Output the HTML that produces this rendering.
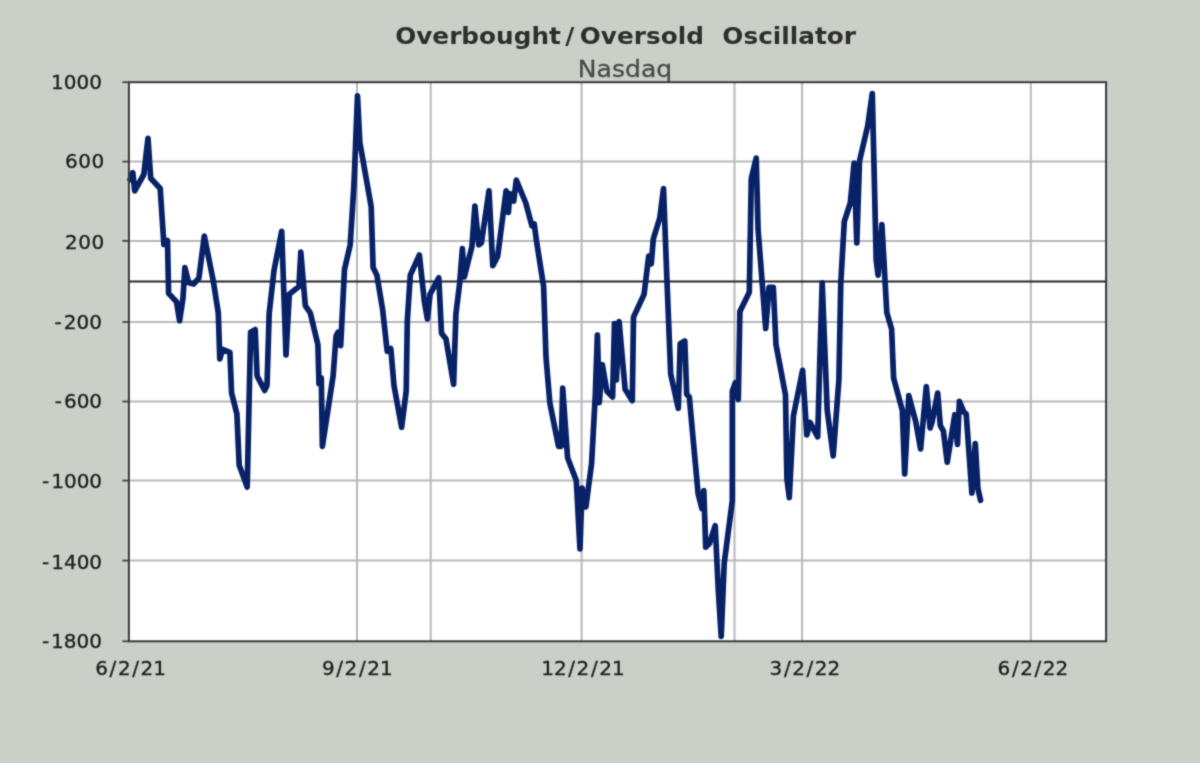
<!DOCTYPE html>
<html><head><meta charset="utf-8"><title>Overbought/Oversold Oscillator</title>
<style>html,body{margin:0;padding:0;background:#cacfc8;}body{width:1200px;height:763px;overflow:hidden;}svg{display:block;}text{font-family:"DejaVu Sans","Liberation Sans",sans-serif;}</style></head><body>
<svg width="1200" height="763" viewBox="0 0 1200 763">
<defs><filter id="soft" x="0" y="0" width="1200" height="763" filterUnits="userSpaceOnUse" color-interpolation-filters="sRGB"><feConvolveMatrix order="3" kernelMatrix="0.0277 0.1110 0.0277 0.1110 0.4452 0.1110 0.0277 0.1110 0.0277" divisor="1" edgeMode="duplicate" preserveAlpha="true"/></filter></defs>
<g filter="url(#soft)">
<rect x="0" y="0" width="1200" height="763" fill="#cacfc8"/>
<text transform="translate(395.17,43.9) scale(1.100,1)" font-size="22.5" font-weight="bold" fill="#2e2e2e" dx="0 0 0 0 0 0 0 0 0 0 3.85 5.12 0 0 0 0 0 0 0 0 0 1.09 0 0 0 0 0 0 0 0 0" style="white-space:pre">Overbought/Oversold  Oscillator</text>
<text transform="translate(577.84,76.6) scale(1.115,1)" font-size="22.5" fill="#484848" stroke="#484848" stroke-width="0.25">Nasdaq</text>
<rect x="128.9" y="82.2" width="977.2" height="559.1" fill="#ffffff"/>
<line x1="128.9" y1="161.6" x2="1106.1" y2="161.6" stroke="#b7b8bb" stroke-width="2.0"/>
<line x1="128.9" y1="240.9" x2="1106.1" y2="240.9" stroke="#b7b8bb" stroke-width="2.0"/>
<line x1="128.9" y1="322.0" x2="1106.1" y2="322.0" stroke="#b7b8bb" stroke-width="2.0"/>
<line x1="128.9" y1="401.5" x2="1106.1" y2="401.5" stroke="#b7b8bb" stroke-width="2.0"/>
<line x1="128.9" y1="480.6" x2="1106.1" y2="480.6" stroke="#b7b8bb" stroke-width="2.0"/>
<line x1="128.9" y1="560.6" x2="1106.1" y2="560.6" stroke="#b7b8bb" stroke-width="2.0"/>
<line x1="357" y1="82.2" x2="357" y2="641.3" stroke="#b7b8bb" stroke-width="2.0"/>
<line x1="430.7" y1="82.2" x2="430.7" y2="641.3" stroke="#b7b8bb" stroke-width="2.0"/>
<line x1="581.6" y1="82.2" x2="581.6" y2="641.3" stroke="#b7b8bb" stroke-width="2.0"/>
<line x1="734.5" y1="82.2" x2="734.5" y2="641.3" stroke="#b7b8bb" stroke-width="2.0"/>
<line x1="802.1" y1="82.2" x2="802.1" y2="641.3" stroke="#b7b8bb" stroke-width="2.0"/>
<line x1="1030.8" y1="82.2" x2="1030.8" y2="641.3" stroke="#b7b8bb" stroke-width="2.0"/>
<line x1="128.9" y1="281.6" x2="1106.1" y2="281.6" stroke="#262626" stroke-width="2.0"/>
<line x1="122.4" y1="82.2" x2="128.9" y2="82.2" stroke="#444" stroke-width="1.8"/>
<line x1="122.4" y1="161.6" x2="128.9" y2="161.6" stroke="#444" stroke-width="1.8"/>
<line x1="122.4" y1="240.9" x2="128.9" y2="240.9" stroke="#444" stroke-width="1.8"/>
<line x1="122.4" y1="322.0" x2="128.9" y2="322.0" stroke="#444" stroke-width="1.8"/>
<line x1="122.4" y1="401.5" x2="128.9" y2="401.5" stroke="#444" stroke-width="1.8"/>
<line x1="122.4" y1="480.6" x2="128.9" y2="480.6" stroke="#444" stroke-width="1.8"/>
<line x1="122.4" y1="560.6" x2="128.9" y2="560.6" stroke="#444" stroke-width="1.8"/>
<line x1="122.4" y1="641.3" x2="128.9" y2="641.3" stroke="#444" stroke-width="1.8"/>
<path d="M130.1,179.6 L132.8,172.6 L134.7,190.8 L143.8,174.5 L148.0,138.4 L150.7,178.3 L160.2,188.5 L163.9,244.5 L167.5,240.5 L168.6,293.4 L176.5,301.8 L179.6,320.8 L183.0,298.0 L184.9,267.6 L188.7,282.8 L193.6,284.0 L198.9,278.2 L204.3,236.0 L213.3,281.0 L218.3,313.0 L219.8,358.9 L222.6,349.5 L229.9,352.5 L231.6,393.0 L236.9,414.0 L239.2,465.3 L247.2,487.0 L250.6,332.3 L255.2,329.6 L257.1,376.0 L264.7,390.4 L267.0,385.5 L269.2,313.3 L274.0,270.5 L281.7,231.3 L286.0,355.0 L289.3,294.2 L298.9,286.6 L300.8,252.2 L305.3,305.6 L310.3,313.0 L317.9,344.6 L319.0,383.6 L321.3,378.0 L322.4,446.3 L327.3,414.0 L333.1,376.0 L336.1,336.0 L338.0,332.3 L340.7,345.6 L344.5,269.5 L350.2,244.8 L354.0,184.0 L357.5,95.8 L359.8,142.2 L371.2,206.8 L373.1,267.6 L376.9,275.2 L382.6,309.4 L387.2,351.3 L390.8,348.6 L394.0,385.5 L401.6,427.3 L406.2,391.2 L407.3,320.8 L410.3,275.2 L419.4,255.0 L424.4,301.8 L427.4,318.9 L430.1,294.2 L438.8,277.8 L441.5,333.2 L446.0,339.0 L453.6,384.3 L455.9,314.2 L459.7,282.8 L462.4,248.6 L464.3,277.0 L471.9,246.7 L474.9,206.0 L478.7,244.8 L481.4,242.9 L489.0,190.8 L492.8,265.7 L497.7,256.2 L506.1,190.8 L508.4,212.5 L509.9,193.5 L513.7,201.1 L516.3,180.2 L525.8,203.0 L531.9,225.8 L534.2,223.9 L536.5,241.0 L543.6,286.2 L546.0,357.0 L549.8,402.6 L558.5,446.3 L561.2,446.3 L562.7,388.1 L567.6,457.7 L576.3,480.5 L580.0,548.9 L582.1,488.0 L585.9,507.0 L591.6,463.4 L595.3,395.0 L597.4,335.0 L599.3,402.6 L602.3,364.6 L606.9,391.2 L612.6,396.9 L614.5,323.6 L616.4,379.8 L619.1,321.5 L625.1,389.3 L632.3,400.7 L633.5,317.1 L644.1,294.2 L648.7,256.2 L651.3,263.8 L653.3,239.0 L659.8,217.8 L663.5,188.5 L666.9,279.0 L670.7,374.1 L678.3,408.3 L680.2,343.7 L684.8,341.0 L686.7,394.2 L689.3,396.9 L698.1,493.5 L701.9,508.6 L703.8,490.5 L705.7,547.2 L709.5,543.4 L715.2,525.7 L718.3,590.0 L721.2,636.3 L724.2,563.4 L732.3,500.7 L732.3,391.2 L735.3,382.8 L738.3,399.5 L739.9,311.4 L749.3,292.3 L751.3,178.3 L756.2,158.1 L758.1,229.6 L765.7,328.5 L769.1,287.3 L773.3,287.3 L776.0,344.6 L785.5,395.0 L786.9,478.6 L789.3,497.6 L793.4,416.0 L802.6,370.3 L806.8,434.9 L810.1,422.5 L817.7,436.8 L819.9,357.0 L822.2,282.8 L827.2,410.2 L833.2,455.8 L838.9,379.8 L840.8,282.8 L844.3,221.5 L850.3,203.0 L854.1,163.0 L856.8,242.9 L859.5,161.2 L867.7,125.8 L872.3,93.5 L874.6,191.6 L876.2,260.0 L878.1,275.2 L881.9,224.6 L886.8,312.5 L891.6,329.0 L893.6,377.9 L902.3,410.2 L904.7,474.0 L908.8,395.7 L915.7,421.6 L920.6,448.9 L926.3,386.6 L930.1,428.0 L932.2,421.5 L937.7,393.1 L940.3,425.4 L943.4,431.1 L947.2,462.2 L954.8,414.7 L957.5,444.4 L959.4,401.4 L963.9,412.1 L966.2,414.0 L971.9,493.0 L975.3,443.6 L977.9,488.5 L980.6,500.3" fill="none" stroke="#082268" stroke-width="5.7" stroke-linejoin="round" stroke-linecap="round"/>
<rect x="128.9" y="82.2" width="977.2" height="559.1" fill="none" stroke="#3a3a3a" stroke-width="2"/>
<text x="101.9" y="89.0" font-size="20" fill="#1c1c1c" stroke="#1c1c1c" stroke-width="0.3" text-anchor="end">1000</text>
<text x="104.9" y="168.0" font-size="20" fill="#1c1c1c" stroke="#1c1c1c" stroke-width="0.3" text-anchor="end" letter-spacing="0.6">600</text>
<text x="104.9" y="249.3" font-size="20" fill="#1c1c1c" stroke="#1c1c1c" stroke-width="0.3" text-anchor="end" letter-spacing="0.6">200</text>
<text x="101.9" y="328.7" font-size="20" fill="#1c1c1c" stroke="#1c1c1c" stroke-width="0.3" text-anchor="end" dx="0 1.9">-200</text>
<text x="102.1" y="408.3" font-size="20" fill="#1c1c1c" stroke="#1c1c1c" stroke-width="0.3" text-anchor="end" dx="0 1.9">-600</text>
<text x="102.1" y="487.8" font-size="20" fill="#1c1c1c" stroke="#1c1c1c" stroke-width="0.3" text-anchor="end" dx="0 1.9">-1000</text>
<text x="102.1" y="568.7" font-size="20" fill="#1c1c1c" stroke="#1c1c1c" stroke-width="0.3" text-anchor="end" dx="0 1.9">-1400</text>
<text x="101.9" y="648.3" font-size="20" fill="#1c1c1c" stroke="#1c1c1c" stroke-width="0.3" text-anchor="end" dx="0 1.9">-1800</text>
<text x="95.3 109.6 117.9 132.2 140.5 153.3" y="675.4" font-size="20" fill="#1c1c1c" stroke="#1c1c1c" stroke-width="0.3">6/2/21</text>
<text x="322.0 336.3 344.6 358.9 367.2 380.0" y="675.4" font-size="20" fill="#1c1c1c" stroke="#1c1c1c" stroke-width="0.3">9/2/21</text>
<text x="541.2 554.0 568.3 576.6 590.9 599.2 612.0" y="675.4" font-size="20" fill="#1c1c1c" stroke="#1c1c1c" stroke-width="0.3">12/2/21</text>
<text x="769.6 783.9 792.2 806.5 814.8 827.6" y="675.4" font-size="20" fill="#1c1c1c" stroke="#1c1c1c" stroke-width="0.3">3/2/22</text>
<text x="997.6 1011.9 1020.2 1034.5 1042.8 1055.6" y="675.4" font-size="20" fill="#1c1c1c" stroke="#1c1c1c" stroke-width="0.3">6/2/22</text>
</g></svg></body></html>
